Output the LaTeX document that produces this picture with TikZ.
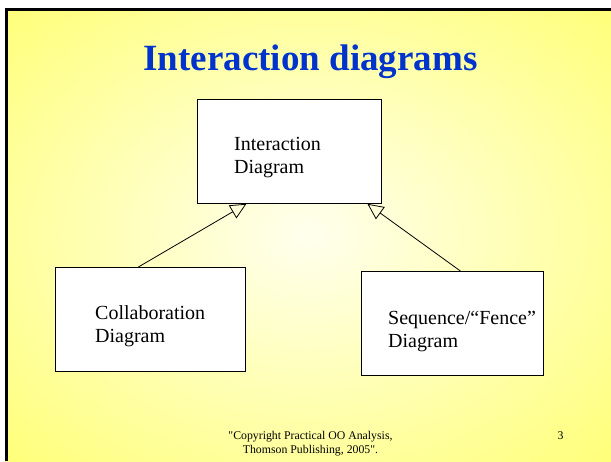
\documentclass[tikz,border=0pt]{standalone}
\usepackage{fontspec}
\setmainfont{Liberation Serif}
\newfontfamily\footfont{Liberation Serif}
\usetikzlibrary{arrows.meta}
\definecolor{bgin}{RGB}{255,255,238}
\definecolor{bgout}{RGB}{255,255,100}
\definecolor{titleblue}{RGB}{0,51,204}
\pgfdeclareradialshading{bgshade}{\pgfpoint{0bp}{0bp}}{color(0bp)=(bgin); color(42bp)=(bgout); color(50bp)=(bgout)}
\tikzset{
  box/.style={draw=black, line width=0.8pt, fill=white, anchor=north west, inner sep=0pt, minimum height=104pt},
  boxtext/.style={font=\fontsize{20}{23}\selectfont, align=left, anchor=base west, inner sep=0pt},
  uml/.style={line width=0.8pt, -{Triangle[open, length=16pt, width=15pt]}}
}
\begin{document}
\begin{tikzpicture}[x=1pt,y=-1pt]
\useasboundingbox (0,0) rectangle (611,461);
\fill[white] (0,0) rectangle (611,461);
\shade[shading=bgshade] (5,8) rectangle (611,461);
\draw[line width=2.6pt] (6.3,461) -- (6.3,9.3) -- (611,9.3);

\node[font=\fontsize{37}{44}\selectfont\bfseries, text=titleblue, anchor=base, inner sep=0pt] (title) at (310.5,70) {Interaction diagrams};

\node[box, minimum width=184pt] (tbox) at (197,99) {};
\node[box, minimum width=190pt] (lbox) at (55,267) {};
\node[box, minimum width=182pt] (rbox) at (361,271) {};

\node[boxtext] (ttext) at (234,173) {Interaction\\Diagram};
\node[boxtext] (ltext) at (95,342) {Collaboration\\Diagram};
\node[boxtext] (rtext) at (388,347) {Sequence/“Fence”\\Diagram};

\draw[uml] ([xshift=-12pt]lbox.north) -- ([xshift=-43pt]tbox.south);
\draw[uml] ([xshift=8pt]rbox.north) -- ([xshift=78pt]tbox.south);

\node[font=\footfont\fontsize{11.8}{14}\selectfont, align=center, anchor=base, inner sep=0pt] (copy) at (310.5,453) {"Copyright Practical OO Analysis,\\Thomson Publishing, 2005".};
\node[font=\footfont\fontsize{11.8}{14}\selectfont, anchor=base, inner sep=0pt] (pg) at (560.5,439) {3};
\end{tikzpicture}
\end{document}
